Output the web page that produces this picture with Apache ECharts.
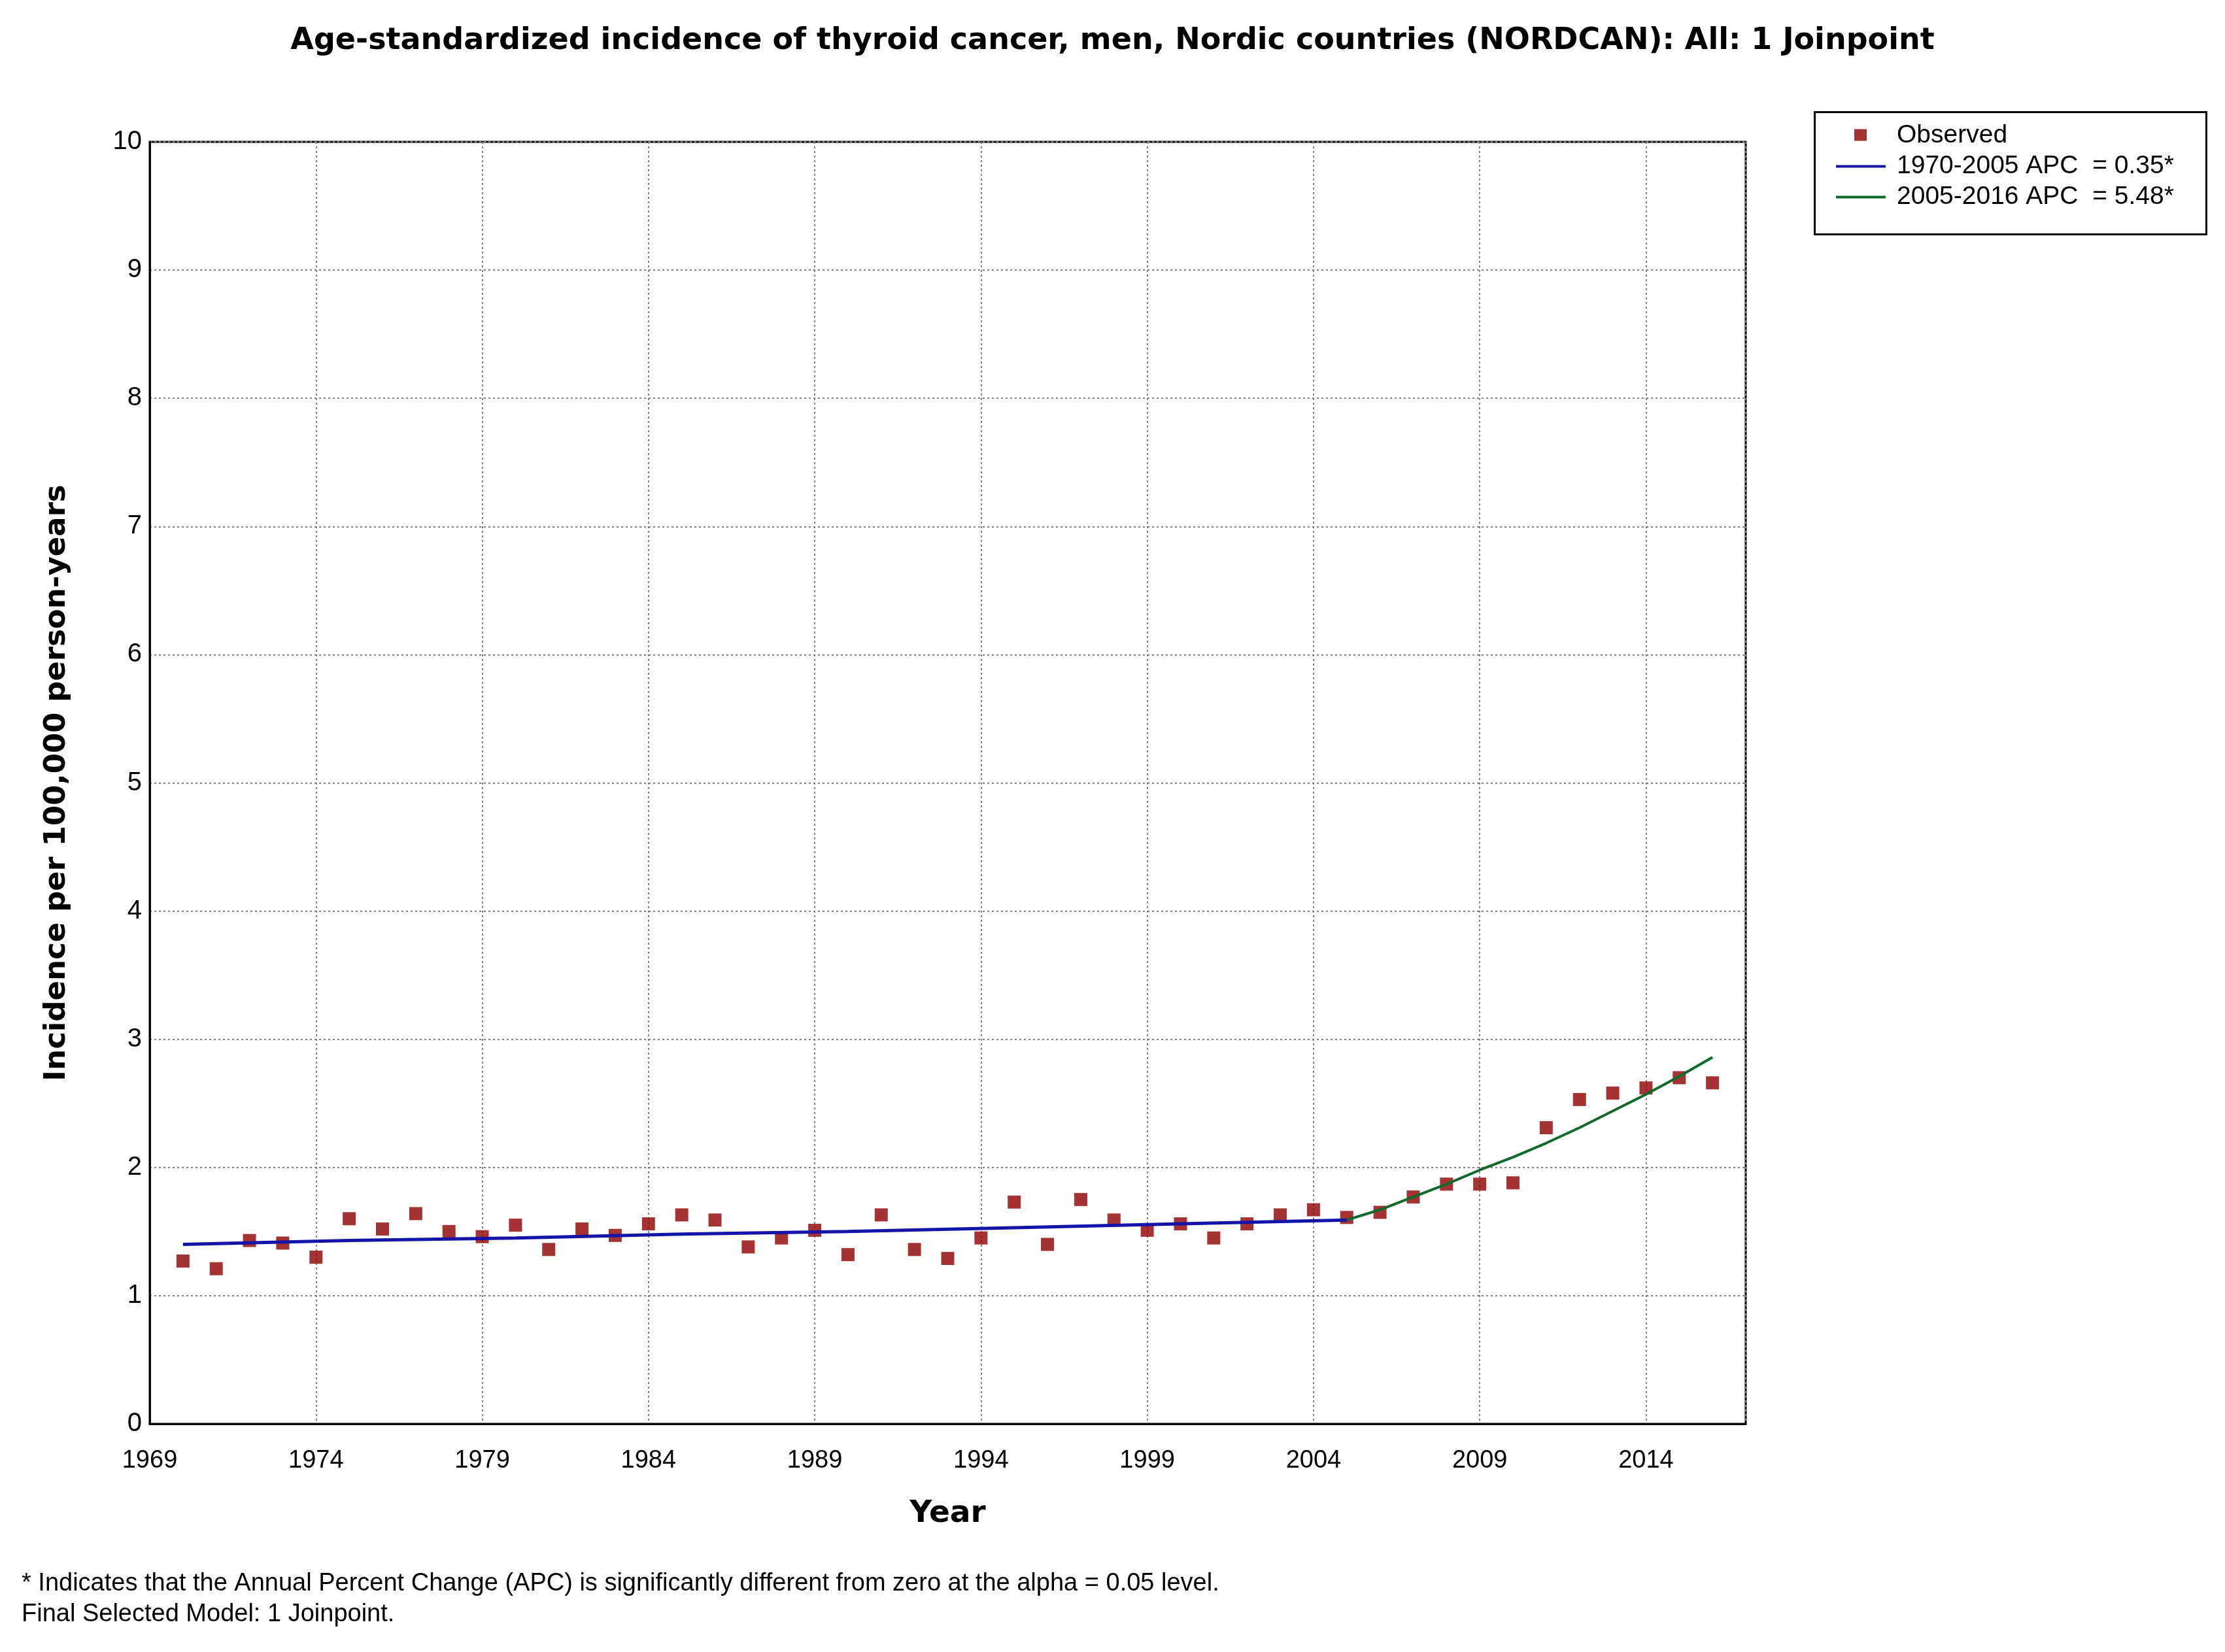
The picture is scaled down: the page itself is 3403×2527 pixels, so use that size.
<!DOCTYPE html>
<html>
<head>
<meta charset="utf-8">
<script src="https://cdn.jsdelivr.net/npm/echarts@6/dist/echarts.min.js"></script>
<style>
  html, body { margin: 0; padding: 0; background: #fff; }
  #chart { width: 3403px; height: 2527px; }
</style>
</head>
<body>
<div id="chart"></div>
<script>
// observed rates
const years = [1970, 1971, 1972, 1973, 1974, 1975, 1976, 1977, 1978, 1979,
  1980, 1981, 1982, 1983, 1984, 1985, 1986, 1987, 1988, 1989,
  1990, 1991, 1992, 1993, 1994, 1995, 1996, 1997, 1998, 1999,
  2000, 2001, 2002, 2003, 2004, 2005, 2006, 2007, 2008, 2009,
  2010, 2011, 2012, 2013, 2014, 2015, 2016];
const observed = [1.27, 1.21, 1.43, 1.41, 1.30, 1.60, 1.52, 1.64, 1.50, 1.46,
  1.55, 1.36, 1.52, 1.47, 1.56, 1.63, 1.59, 1.38, 1.45, 1.51,
  1.32, 1.63, 1.36, 1.29, 1.45, 1.73, 1.40, 1.75, 1.59, 1.51,
  1.56, 1.45, 1.56, 1.63, 1.67, 1.61, 1.65, 1.77, 1.87, 1.87,
  1.88, 2.31, 2.53, 2.58, 2.62, 2.70, 2.66];

// joinpoint segments (modelled values)
const seg1Years = [1970, 1975, 1980, 1985, 1990, 1995, 2000, 2005];
const seg1Vals = [1.40, 1.43, 1.45, 1.48, 1.50, 1.53, 1.56, 1.59];
const seg2Years = [2005, 2006, 2007, 2008, 2009, 2010, 2011, 2012, 2013, 2014, 2015, 2016];
const seg2Vals = [1.59, 1.67, 1.77, 1.87, 1.98, 2.08, 2.19, 2.31, 2.44, 2.57, 2.71, 2.86];

const legendNames = ['Observed', '1970-2005 APC  = 0.35*', '2005-2016 APC  = 5.48*'];
const yTicks = [0, 10, 1];

const myChart = echarts.init(document.getElementById('chart'));

const lineIcon = 'path://M0,0L88,0M0,20L88,20M0,8h76v4h-76z';
const dotIcon = 'path://M0,0L88,0M0,20L88,20M28,0h19v18h-19z';

const option = {
  backgroundColor: '#fff',
  animation: false,
  title: [{
    text: 'Age-standardized incidence of thyroid cancer, men, Nordic countries (NORDCAN): All: 1 Joinpoint',
    left: 'center',
    top: 35,
    textStyle: {
      fontFamily: 'DejaVu Sans',
      fontWeight: 'bold',
      fontSize: 46,
      color: '#000',
    },
  }, {
    text: '* Indicates that the Annual Percent Change (APC) is significantly different from zero at the alpha = 0.05 level.\nFinal Selected Model: 1 Joinpoint.',
    left: 28,
    top: 2394,
    textStyle: {
      fontFamily: 'Liberation Sans',
      fontWeight: 'normal',
      fontSize: 38,
      lineHeight: 47,
      color: '#000',
    },
  }],
  legend: {
    orient: 'vertical',
    left: 2808,
    top: 184,
    padding: 0,
    itemGap: 0,
    itemWidth: 88,
    itemHeight: 20,
    textStyle: {
      fontFamily: 'Liberation Sans',
      fontSize: 39,
      lineHeight: 47,
      color: '#000',
    },
    data: [
      { name: legendNames[0], icon: dotIcon, itemStyle: { borderWidth: 0 } },
      { name: legendNames[1], icon: lineIcon, itemStyle: { borderWidth: 0 } },
      { name: legendNames[2], icon: lineIcon, itemStyle: { borderWidth: 0 } },
    ],
  },
  graphic: [{
    type: 'rect',
    left: 2773,
    top: 169,
    shape: { width: 599, height: 187 },
    style: { fill: 'none', stroke: '#000', lineWidth: 3 },
    z: 100,
  }],
  grid: {
    left: 229,
    right: 733,
    top: 217,
    bottom: 349,
    show: true,
    borderColor: '#000',
    borderWidth: 3,
    containLabel: false,
  },
  xAxis: {
    type: 'value',
    min: 1969,
    max: 2017,
    interval: 5,
    name: 'Year',
    nameLocation: 'middle',
    nameGap: 114,
    nameTextStyle: {
      fontFamily: 'DejaVu Sans',
      fontWeight: 'bold',
      fontSize: 47,
      color: '#000',
    },
    axisLine: { lineStyle: { color: '#000', width: 3 } },
    axisTick: { show: false },
    axisLabel: {
      showMaxLabel: false,
      margin: 38,
      fontFamily: 'Liberation Sans',
      fontSize: 38,
      color: '#000',
      formatter: (v) => String(v),
    },
    splitLine: {
      show: true,
      lineStyle: { color: '#808080', width: 2, type: [3, 4] },
    },
  },
  yAxis: {
    type: 'value',
    min: yTicks[0],
    max: yTicks[1],
    interval: yTicks[2],
    name: 'Incidence per 100,000 person-years',
    nameLocation: 'middle',
    nameRotate: 90,
    nameGap: 119,
    nameTextStyle: {
      fontFamily: 'DejaVu Sans',
      fontWeight: 'bold',
      fontSize: 45,
      color: '#000',
    },
    axisLine: { lineStyle: { color: '#000', width: 3 } },
    axisTick: { show: false },
    axisLabel: {
      margin: 12,
      fontFamily: 'Liberation Sans',
      fontSize: 40,
      color: '#000',
    },
    splitLine: {
      show: true,
      lineStyle: { color: '#808080', width: 2, type: [3, 4] },
    },
  },
  series: [
    {
      name: legendNames[0],
      type: 'scatter',
      symbol: 'rect',
      symbolSize: 20,
      itemStyle: { color: '#8e0000' },
      data: years.map((y, i) => [y, observed[i]]),
      z: 2,
    },
    {
      name: legendNames[1],
      type: 'line',
      showSymbol: false,
      symbol: 'none',
      color: '#1414a8',
      lineStyle: { color: '#1414a8', width: 5 },
      data: seg1Years.map((y, i) => [y, seg1Vals[i]]),
      z: 3,
    },
    {
      name: legendNames[2],
      type: 'line',
      showSymbol: false,
      symbol: 'none',
      color: '#0e6a2c',
      lineStyle: { color: '#0e6a2c', width: 4 },
      data: seg2Years.map((y, i) => [y, seg2Vals[i]]),
      z: 3,
    },
  ],
};

myChart.setOption(option);
</script>
</body>
</html>
